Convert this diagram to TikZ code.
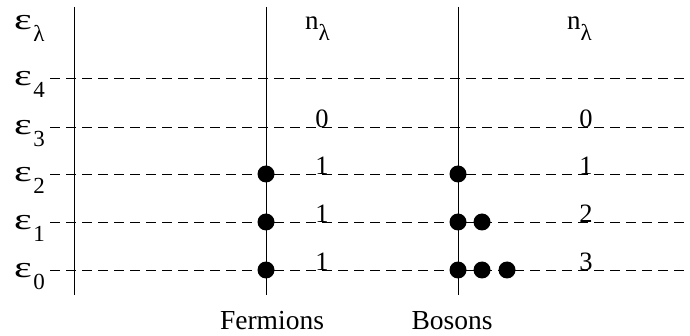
\documentclass[tikz,border=0pt]{standalone}
\usepackage{fontspec}
\setmainfont{Liberation Serif}
\begin{document}
\begin{tikzpicture}[x=1pt,y=-1pt,
  axis/.style={line width=1pt},
  level/.style={line width=0.9pt, dash pattern=on 10pt off 6pt},
  dot/.style={circle, fill=black, inner sep=0pt, minimum size=17pt},
  lab/.style={inner sep=0pt, anchor=base west, font=\fontsize{27}{27}\selectfont},
  num/.style={inner sep=0pt, anchor=base, font=\fontsize{26.5}{26.5}\selectfont},
  captext/.style={inner sep=0pt, anchor=base, font=\fontsize{27.5}{27.5}\selectfont}]
\useasboundingbox (0,0) rectangle (690,336);
% levels
\foreach \i/\y in {0/270,1/222,2/174,3/127,4/78}{
  \coordinate (L\i) at (50,\y);
  \coordinate (R\i) at (690,\y);
  \draw[level] (L\i) -- (R\i);
}
% axes
\coordinate (a1) at (74,7); \coordinate (a2) at (74,295);
\coordinate (f1) at (266,7); \coordinate (f2) at (266,295);
\coordinate (b1) at (458,7); \coordinate (b2) at (458,295);
\draw[axis] (a1) -- (a2);
\draw[axis] (f1) -- (f2);
\draw[axis] (b1) -- (b2);
% energy labels
\newcommand{\eps}[1]{{\fontsize{30}{30}\selectfont\scalebox{1.4}[1]{ε}}\kern1.5pt\raisebox{-12pt}{\fontsize{23}{23}\selectfont #1}}
\node[lab] (el) at (14,30) {\eps{λ}};
\foreach \i/\y in {0/270,1/222,2/174,3/127,4/78}{
  \node[lab] (e\i) at (14,\y+8) {\eps{\i}};
}
% occupation headers
\newcommand{\occ}{n\raisebox{-11pt}{\fontsize{23}{23}\selectfont λ}}
\node[lab] (nf) at (305,30) {\occ};
\node[lab] (nb) at (567,30) {\occ};
% fermion numbers
\node[num] (f3n) at (322,128) {0};
\node[num] (f2n) at (322,175) {1};
\node[num] (f1n) at (322,223) {1};
\node[num] (f0n) at (322,271) {1};
% boson numbers
\node[num] (b3n) at (586,128) {0};
\node[num] (b2n) at (586,175) {1};
\node[num] (b1n) at (586,223) {2};
\node[num] (b0n) at (586,271) {3};
% fermion dots
\node[dot] (fd2) at (266,174) {};
\node[dot] (fd1) at (266,222) {};
\node[dot] (fd0) at (266,270) {};
% boson dots
\node[dot] (bd2) at (458,174) {};
\node[dot] (bd1a) at (458,222) {};
\node[dot] (bd1b) at (482,222) {};
\node[dot] (bd0a) at (458,270) {};
\node[dot] (bd0b) at (482,270) {};
\node[dot] (bd0c) at (507,270) {};
% captions
\node[captext] (fer) at (272,330) {Fermions};
\node[captext] (bos) at (452,330) {Bosons};
\end{tikzpicture}
\end{document}
